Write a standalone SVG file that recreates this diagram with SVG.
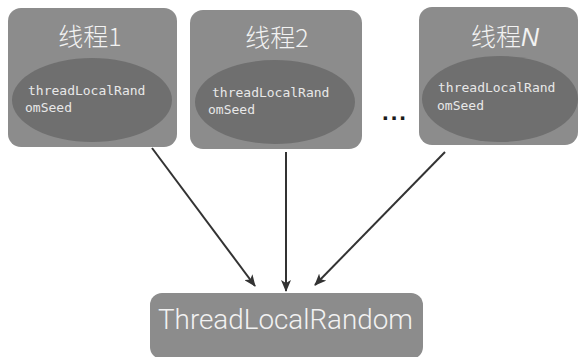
<svg xmlns="http://www.w3.org/2000/svg" width="582" height="357" viewBox="0 0 582 357">
<style>
.box{fill:#8c8c8c}
.ell{fill:#6f6f6f}
.title{font-family:"Noto Sans CJK SC","Liberation Sans",sans-serif;font-size:25px;fill:#f2f2f2;text-anchor:middle;font-weight:300}
.seed{font-family:"DejaVu Sans Mono",monospace;font-size:13px;fill:#e8e8e8}
.main{font-family:Roboto,"Liberation Sans",sans-serif;font-weight:300;font-size:27px;fill:#f2f2f2}
.conn{stroke:#333;stroke-width:2;fill:none;marker-end:url(#ah)}
</style>
<defs>
<marker id="ah" viewBox="0 0 12 10" refX="11" refY="5" markerWidth="12" markerHeight="10" markerUnits="userSpaceOnUse" orient="auto">
<path d="M0,0 L12,5 L0,10 L3,5 Z" fill="#333"/>
</marker>
</defs>
<rect width="582" height="357" fill="#ffffff"/>
<g id="thread1">
<rect class="box" x="8" y="8" width="169" height="139" rx="13"/>
<ellipse class="ell" cx="92" cy="100" rx="80" ry="42"/>
<text class="title" x="90" y="46">线程1</text>
<text class="seed" x="28" y="95">threadLocalRand</text>
<text class="seed" x="25" y="112">omSeed</text>
</g>
<g id="thread2">
<rect class="box" x="190" y="10" width="172" height="139" rx="13"/>
<ellipse class="ell" cx="275" cy="102" rx="80" ry="42"/>
<text class="title" x="277" y="47">线程2</text>
<text class="seed" x="212" y="97">threadLocalRand</text>
<text class="seed" x="208" y="114">omSeed</text>
</g>
<g id="dots">
<text x="382" y="120" style="font-family:'Liberation Sans',sans-serif;font-size:24px;font-weight:bold;fill:#1a1a1a;letter-spacing:2px">...</text>
</g>
<g id="threadN">
<rect class="box" x="419" y="7" width="159" height="138" rx="13"/>
<ellipse class="ell" cx="500" cy="99" rx="78" ry="43"/>
<text class="title" x="505" y="46">线程<tspan font-style="italic" font-family="Liberation Sans,sans-serif">N</tspan></text>
<text class="seed" x="438" y="92">threadLocalRand</text>
<text class="seed" x="437" y="110">omSeed</text>
</g>
<g id="tlr">
<rect class="box" x="150" y="293" width="273" height="66" rx="12"/>
<text class="main" x="158" y="329" textLength="255" lengthAdjust="spacingAndGlyphs">ThreadLocalRandom</text>
</g>
<g id="connectors">
<line class="conn" x1="152" y1="148" x2="255" y2="286"/>
<line class="conn" x1="286" y1="152" x2="286" y2="291"/>
<line class="conn" x1="445" y1="152" x2="315" y2="285"/>
</g>
</svg>
